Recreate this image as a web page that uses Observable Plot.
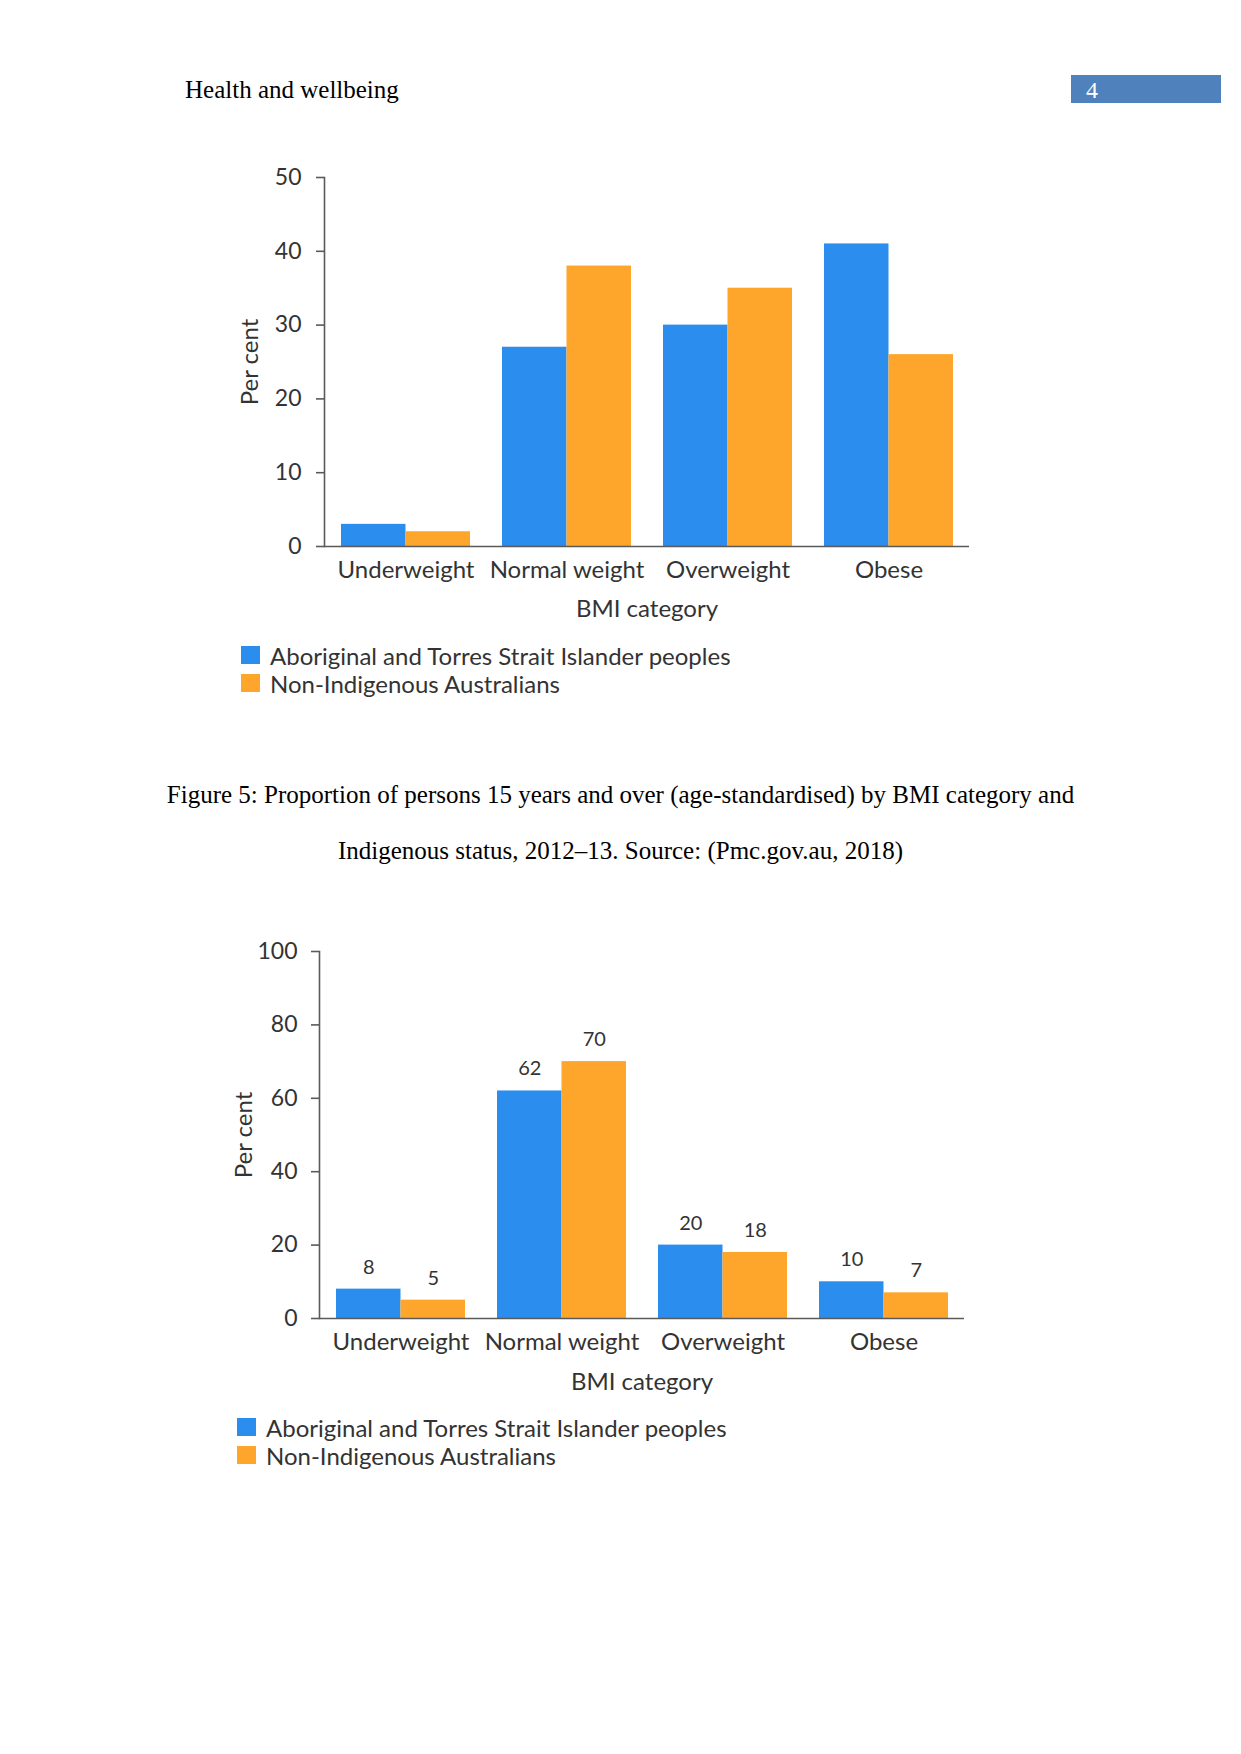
<!DOCTYPE html>
<html>
<head>
<meta charset="utf-8">
<script src="https://cdn.jsdelivr.net/npm/d3@7"></script>
<script src="https://cdn.jsdelivr.net/npm/@observablehq/plot@0.6"></script>
<style>
  html, body { margin: 0; padding: 0; background: #fff; }
  #page { position: relative; width: 1241px; height: 1754px; overflow: hidden; background: #fff; }
  .serif { font-family: "Liberation Serif", "Times New Roman", serif; color: #000; position: absolute; white-space: nowrap; line-height: 1; }
  .chart { position: absolute; left: 0; }
  .legend-row { position: absolute; display: flex; align-items: center; height: 18px; font-family: Lato, sans-serif; font-size: 24px; color: #333; white-space: nowrap; }
  .legend-row .sw { width: 19px; height: 18px; margin-right: 10px; flex: none; }
</style>
</head>
<body>
<div id="page">
  <div class="serif" style="left:185px; top:77px; font-size:25px;">Health and wellbeing</div>
  <div style="position:absolute; left:1071px; top:75px; width:150px; height:28px; background:#4F81BD;"></div>
  <div class="serif" style="left:1086px; top:78px; font-size:24px; color:#fff;">4</div>

  <div id="chart1" class="chart" style="top:140px;"></div>
  <div id="legend1"></div>

  <div class="serif" style="left:0; width:1241px; text-align:center; top:782px; font-size:25px;">Figure 5: Proportion of persons 15 years and over (age-standardised) by BMI category and</div>
  <div class="serif" style="left:0; width:1241px; text-align:center; top:838px; font-size:25px;">Indigenous status, 2012–13. Source: (Pmc.gov.au, 2018)</div>

  <div id="chart2" class="chart" style="top:920px;"></div>
  <div id="legend2"></div>
</div>
<script>
// ---- data ----
const categories = ["Underweight", "Normal weight", "Overweight", "Obese"];
const seriesNames = ["Aboriginal and Torres Strait Islander peoples", "Non-Indigenous Australians"];
const colors = ["#2B8DEE", "#FEA62C"];

const chart1Indigenous = [3, 27, 30, 41];
const chart1NonIndigenous = [2, 38, 35, 26];
const chart1Ticks = [0, 10, 20, 30, 40, 50];

const chart2Indigenous = [8, 62, 20, 10];
const chart2NonIndigenous = [5, 70, 18, 7];
const chart2Ticks = [0, 20, 40, 60, 80, 100];

const yLabel = "Per cent";
const xLabel = "BMI category";

function rows(values, s) {
  return categories.map((c, i) => ({category: c, value: values[i], series: s}));
}

function barChart(o) {
  const width = 1000;
  const xOpts = {domain: categories, paddingInner: 0.2, paddingOuter: 0.1};
  let bw;
  try {
    bw = Plot.scale({x: {type: "band", ...xOpts, range: [o.ml, width - o.mr]}}).bandwidth;
  } catch (e) {
    const step = (width - o.ml - o.mr) / 4;
    bw = step * 0.8;
  }
  const A = rows(o.a, seriesNames[0]);
  const B = rows(o.b, seriesNames[1]);
  const axisColor = "#5a5a5a";
  const marks = [
    Plot.barY(A, {x: "category", y: "value", fill: colors[0], insetLeft: 0, insetRight: bw / 2}),
    Plot.barY(B, {x: "category", y: "value", fill: colors[1], insetLeft: bw / 2, insetRight: 0}),
    Plot.ruleY([0], {stroke: axisColor, strokeWidth: 1.6}),
    Plot.frame({anchor: "left", stroke: axisColor, strokeWidth: 1.6}),
    Plot.axisY({ticks: o.ticks, tickSize: 8, tickPadding: o.tp, fontSize: 23, label: null, stroke: axisColor, strokeWidth: 1.6}),
    Plot.axisX({tickSize: 0, tickPadding: 14, fontSize: 24, label: null}),
    Plot.text([yLabel], {frameAnchor: "left", textAnchor: "middle", lineAnchor: "middle", text: d => d, rotate: -90, dx: o.pdx, fontSize: 24}),
    Plot.text([xLabel], {frameAnchor: "bottom", textAnchor: "middle", lineAnchor: "middle", text: d => d, dy: o.bdy, fontSize: 24})
  ];
  if (o.labels) {
    marks.push(Plot.text(A, {x: "category", y: "value", text: d => String(d.value), dx: -bw / 4, dy: -22, fontSize: 20}));
    marks.push(Plot.text(B, {x: "category", y: "value", text: d => String(d.value), dx: bw / 4, dy: -22, fontSize: 20}));
  }
  return Plot.plot({
    width,
    height: o.mt + o.ph + 90,
    marginLeft: o.ml,
    marginRight: o.mr,
    marginTop: o.mt,
    marginBottom: 90,
    x: xOpts,
    y: {domain: [0, o.ticks[o.ticks.length - 1]]},
    style: {fontFamily: "Lato, sans-serif", color: "#333", background: "transparent", overflow: "visible"},
    marks
  });
}

function legend(el, left, tops) {
  seriesNames.forEach((s, i) => {
    const row = document.createElement("div");
    row.className = "legend-row";
    row.style.left = left + "px";
    row.style.top = tops[i] + "px";
    const sw = document.createElement("div");
    sw.className = "sw";
    sw.style.background = colors[i];
    const t = document.createElement("span");
    t.textContent = s;
    row.appendChild(sw);
    row.appendChild(t);
    el.appendChild(row);
  });
}

document.getElementById("chart1").appendChild(barChart({
  a: chart1Indigenous, b: chart1NonIndigenous, ticks: chart1Ticks,
  ml: 324, mr: 31, mt: 37, ph: 369, tp: 15, pdx: -74, bdy: 63, labels: false
}));
document.getElementById("chart2").appendChild(barChart({
  a: chart2Indigenous, b: chart2NonIndigenous, ticks: chart2Ticks,
  ml: 319, mr: 36, mt: 31, ph: 367, tp: 14, pdx: -75, bdy: 64, labels: true
}));
legend(document.getElementById("legend1"), 241, [646, 674]);
legend(document.getElementById("legend2"), 237, [1418, 1446]);
</script>
</body>
</html>
